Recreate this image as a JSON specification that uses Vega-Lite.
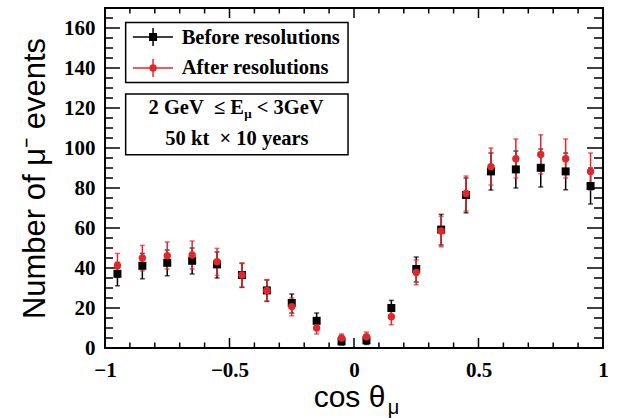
{
  "$schema": "https://vega.github.io/schema/vega-lite/v6.json",
  "width": 498,
  "height": 340,
  "autosize": {"type": "none"},
  "padding": {"left": 105, "top": 8, "right": 22, "bottom": 70},
  "background": "white",
  "config": {
    "view": {"stroke": "black", "strokeWidth": 2},
    "axis": {"domain": false, "grid": false, "ticks": false, "tickSize": 0, "labelColor": "black", "titleColor": "black"}
  },
  "datasets": {
    "pts": [
      {"c": -0.95, "s": "Before resolutions", "n": 37.1, "lo": 31.1, "hi": 42.8},
      {"c": -0.85, "s": "Before resolutions", "n": 41.1, "lo": 34.6, "hi": 47.3},
      {"c": -0.75, "s": "Before resolutions", "n": 42.6, "lo": 36.1, "hi": 49.0},
      {"c": -0.65, "s": "Before resolutions", "n": 43.6, "lo": 37.0, "hi": 50.0},
      {"c": -0.55, "s": "Before resolutions", "n": 41.8, "lo": 35.0, "hi": 48.0},
      {"c": -0.45, "s": "Before resolutions", "n": 36.5, "lo": 30.3, "hi": 42.3},
      {"c": -0.35, "s": "Before resolutions", "n": 28.8, "lo": 23.3, "hi": 34.0},
      {"c": -0.25, "s": "Before resolutions", "n": 22.5, "lo": 17.5, "hi": 27.0},
      {"c": -0.15, "s": "Before resolutions", "n": 13.6, "lo": 10.0, "hi": 17.5},
      {"c": -0.05, "s": "Before resolutions", "n": 3.3, "lo": 1.5, "hi": 5.3},
      {"c": 0.05, "s": "Before resolutions", "n": 3.8, "lo": 1.8, "hi": 5.8},
      {"c": 0.15, "s": "Before resolutions", "n": 20.0, "lo": 15.6, "hi": 23.8},
      {"c": 0.25, "s": "Before resolutions", "n": 39.5, "lo": 33.0, "hi": 45.5},
      {"c": 0.35, "s": "Before resolutions", "n": 59.2, "lo": 51.5, "hi": 66.8},
      {"c": 0.45, "s": "Before resolutions", "n": 76.5, "lo": 67.6, "hi": 85.0},
      {"c": 0.55, "s": "Before resolutions", "n": 88.3, "lo": 79.0, "hi": 97.5},
      {"c": 0.65, "s": "Before resolutions", "n": 89.3, "lo": 80.0, "hi": 98.5},
      {"c": 0.75, "s": "Before resolutions", "n": 90.1, "lo": 80.5, "hi": 99.5},
      {"c": 0.85, "s": "Before resolutions", "n": 88.3, "lo": 79.1, "hi": 97.5},
      {"c": 0.95, "s": "Before resolutions", "n": 81.0, "lo": 72.0, "hi": 90.0},
      {"c": -0.95, "s": "After resolutions", "n": 41.3, "lo": 35.3, "hi": 47.3},
      {"c": -0.85, "s": "After resolutions", "n": 45.0, "lo": 38.6, "hi": 51.3},
      {"c": -0.75, "s": "After resolutions", "n": 46.1, "lo": 39.5, "hi": 53.0},
      {"c": -0.65, "s": "After resolutions", "n": 46.5, "lo": 39.5, "hi": 53.5},
      {"c": -0.55, "s": "After resolutions", "n": 43.1, "lo": 36.3, "hi": 49.8},
      {"c": -0.45, "s": "After resolutions", "n": 36.5, "lo": 30.5, "hi": 42.5},
      {"c": -0.35, "s": "After resolutions", "n": 28.8, "lo": 23.5, "hi": 34.2},
      {"c": -0.25, "s": "After resolutions", "n": 20.7, "lo": 16.1, "hi": 25.0},
      {"c": -0.15, "s": "After resolutions", "n": 10.0, "lo": 7.0, "hi": 13.0},
      {"c": -0.05, "s": "After resolutions", "n": 5.0, "lo": 2.8, "hi": 7.0},
      {"c": 0.05, "s": "After resolutions", "n": 5.6, "lo": 3.3, "hi": 8.0},
      {"c": 0.15, "s": "After resolutions", "n": 15.6, "lo": 11.6, "hi": 19.5},
      {"c": 0.25, "s": "After resolutions", "n": 37.8, "lo": 31.6, "hi": 44.0},
      {"c": 0.35, "s": "After resolutions", "n": 58.5, "lo": 50.6, "hi": 65.8},
      {"c": 0.45, "s": "After resolutions", "n": 77.3, "lo": 68.5, "hi": 86.0},
      {"c": 0.55, "s": "After resolutions", "n": 90.6, "lo": 81.5, "hi": 100.0},
      {"c": 0.65, "s": "After resolutions", "n": 94.6, "lo": 85.0, "hi": 104.5},
      {"c": 0.75, "s": "After resolutions", "n": 96.8, "lo": 87.1, "hi": 106.6},
      {"c": 0.85, "s": "After resolutions", "n": 94.6, "lo": 85.0, "hi": 104.5},
      {"c": 0.95, "s": "After resolutions", "n": 88.3, "lo": 79.0, "hi": 97.5}
    ]
  },
  "layer": [
    {
      "data": {"name": "pts"},
      "transform": [{"filter": "datum.s === 'Before resolutions'"}],
      "mark": {"type": "rule", "color": "black", "strokeWidth": 1.5},
      "encoding": {
        "x": {
          "field": "c", "type": "quantitative",
          "scale": {"domain": [-1, 1], "nice": false, "zero": false},
          "axis": {
            "orient": "bottom",
            "values": [-1, -0.5, 0, 0.5, 1],
            "format": "~g",
            "labelFont": "Liberation Serif", "labelFontWeight": "bold", "labelFontSize": 21,
            "labelPadding": 11, "labelOverlap": false, "labelFlush": false,
            "title": "cos θ",
            "titleFont": "Liberation Sans", "titleFontSize": 30, "titleFontWeight": "normal",
            "titleX": 244, "titleY": 58, "titleBaseline": "alphabetic"
          }
        },
        "y": {
          "field": "lo", "type": "quantitative",
          "scale": {"domain": [0, 170], "nice": false, "zero": false},
          "axis": {
            "orient": "left",
            "values": [0, 20, 40, 60, 80, 100, 120, 140, 160],
            "labelFont": "Liberation Serif", "labelFontWeight": "bold", "labelFontSize": 21,
            "labelPadding": 10, "labelOverlap": false, "labelFlush": false,
            "title": "Number of μ⁻ events",
            "titleFont": "Liberation Sans", "titleFontSize": 31, "titleFontWeight": "normal",
            "titleX": -61, "titleY": 170, "titleBaseline": "alphabetic"
          }
        },
        "y2": {"field": "hi"}
      }
    },
    {
      "data": {"values": [{"v": -1}, {"v": -0.5}, {"v": 0}, {"v": 0.5}, {"v": 1}]},
      "mark": {"type": "rule", "color": "black", "strokeWidth": 1.5},
      "encoding": {"x": {"field": "v", "type": "quantitative"}, "y": {"value": {"expr": "height"}}, "y2": {"value": {"expr": "height - 10"}}}
    },
    {
      "data": {"values": [{"v": -1}, {"v": -0.5}, {"v": 0}, {"v": 0.5}, {"v": 1}]},
      "mark": {"type": "rule", "color": "black", "strokeWidth": 1.5},
      "encoding": {"x": {"field": "v", "type": "quantitative"}, "y": {"value": 0}, "y2": {"value": 10}}
    },
    {
      "data": {"values": [{"v": -0.9}, {"v": -0.8}, {"v": -0.7}, {"v": -0.6}, {"v": -0.4}, {"v": -0.3}, {"v": -0.2}, {"v": -0.1}, {"v": 0.1}, {"v": 0.2}, {"v": 0.3}, {"v": 0.4}, {"v": 0.6}, {"v": 0.7}, {"v": 0.8}, {"v": 0.9}]},
      "mark": {"type": "rule", "color": "black", "strokeWidth": 1.5},
      "encoding": {"x": {"field": "v", "type": "quantitative"}, "y": {"value": {"expr": "height"}}, "y2": {"value": {"expr": "height - 5.5"}}}
    },
    {
      "data": {"values": [{"v": -0.9}, {"v": -0.8}, {"v": -0.7}, {"v": -0.6}, {"v": -0.4}, {"v": -0.3}, {"v": -0.2}, {"v": -0.1}, {"v": 0.1}, {"v": 0.2}, {"v": 0.3}, {"v": 0.4}, {"v": 0.6}, {"v": 0.7}, {"v": 0.8}, {"v": 0.9}]},
      "mark": {"type": "rule", "color": "black", "strokeWidth": 1.5},
      "encoding": {"x": {"field": "v", "type": "quantitative"}, "y": {"value": 0}, "y2": {"value": 5.5}}
    },
    {
      "data": {"values": [{"v": 0}, {"v": 20}, {"v": 40}, {"v": 60}, {"v": 80}, {"v": 100}, {"v": 120}, {"v": 140}, {"v": 160}]},
      "mark": {"type": "rule", "color": "black", "strokeWidth": 1.5},
      "encoding": {"y": {"field": "v", "type": "quantitative"}, "x": {"value": 0}, "x2": {"value": 15}}
    },
    {
      "data": {"values": [{"v": 0}, {"v": 20}, {"v": 40}, {"v": 60}, {"v": 80}, {"v": 100}, {"v": 120}, {"v": 140}, {"v": 160}]},
      "mark": {"type": "rule", "color": "black", "strokeWidth": 1.5},
      "encoding": {"y": {"field": "v", "type": "quantitative"}, "x": {"value": {"expr": "width"}}, "x2": {"value": {"expr": "width - 16"}}}
    },
    {
      "data": {"values": [{"v": 5}, {"v": 10}, {"v": 15}, {"v": 25}, {"v": 30}, {"v": 35}, {"v": 45}, {"v": 50}, {"v": 55}, {"v": 65}, {"v": 70}, {"v": 75}, {"v": 85}, {"v": 90}, {"v": 95}, {"v": 105}, {"v": 110}, {"v": 115}, {"v": 125}, {"v": 130}, {"v": 135}, {"v": 145}, {"v": 150}, {"v": 155}, {"v": 165}]},
      "mark": {"type": "rule", "color": "black", "strokeWidth": 1.5},
      "encoding": {"y": {"field": "v", "type": "quantitative"}, "x": {"value": 0}, "x2": {"value": 8}}
    },
    {
      "data": {"values": [{"v": 5}, {"v": 10}, {"v": 15}, {"v": 25}, {"v": 30}, {"v": 35}, {"v": 45}, {"v": 50}, {"v": 55}, {"v": 65}, {"v": 70}, {"v": 75}, {"v": 85}, {"v": 90}, {"v": 95}, {"v": 105}, {"v": 110}, {"v": 115}, {"v": 125}, {"v": 130}, {"v": 135}, {"v": 145}, {"v": 150}, {"v": 155}, {"v": 165}]},
      "mark": {"type": "rule", "color": "black", "strokeWidth": 1.5},
      "encoding": {"y": {"field": "v", "type": "quantitative"}, "x": {"value": {"expr": "width"}}, "x2": {"value": {"expr": "width - 9"}}}
    },
    {
      "data": {"name": "pts"},
      "transform": [{"filter": "datum.s === 'Before resolutions'"}],
      "mark": {"type": "tick", "orient": "horizontal", "size": 5, "thickness": 1.5, "color": "black"},
      "encoding": {"x": {"field": "c", "type": "quantitative"}, "y": {"field": "lo", "type": "quantitative"}}
    },
    {
      "data": {"name": "pts"},
      "transform": [{"filter": "datum.s === 'Before resolutions'"}],
      "mark": {"type": "tick", "orient": "horizontal", "size": 5, "thickness": 1.5, "color": "black"},
      "encoding": {"x": {"field": "c", "type": "quantitative"}, "y": {"field": "hi", "type": "quantitative"}}
    },
    {
      "data": {"name": "pts"},
      "transform": [{"filter": "datum.s === 'After resolutions'"}],
      "mark": {"type": "rule", "color": "#e3262c", "strokeWidth": 1.5},
      "encoding": {"x": {"field": "c", "type": "quantitative"}, "y": {"field": "lo", "type": "quantitative"}, "y2": {"field": "hi"}}
    },
    {
      "data": {"name": "pts"},
      "transform": [{"filter": "datum.s === 'After resolutions'"}],
      "mark": {"type": "tick", "orient": "horizontal", "size": 5, "thickness": 1.5, "color": "#e3262c"},
      "encoding": {"x": {"field": "c", "type": "quantitative"}, "y": {"field": "lo", "type": "quantitative"}}
    },
    {
      "data": {"name": "pts"},
      "transform": [{"filter": "datum.s === 'After resolutions'"}],
      "mark": {"type": "tick", "orient": "horizontal", "size": 5, "thickness": 1.5, "color": "#e3262c"},
      "encoding": {"x": {"field": "c", "type": "quantitative"}, "y": {"field": "hi", "type": "quantitative"}}
    },
    {
      "data": {"name": "pts"},
      "transform": [{"filter": "datum.s === 'Before resolutions'"}],
      "mark": {"type": "square", "size": 64, "opacity": 1, "color": "black"},
      "encoding": {"x": {"field": "c", "type": "quantitative"}, "y": {"field": "n", "type": "quantitative"}}
    },
    {
      "data": {"name": "pts"},
      "transform": [{"filter": "datum.s === 'After resolutions'"}],
      "mark": {"type": "circle", "size": 55, "opacity": 1, "color": "#e3262c"},
      "encoding": {"x": {"field": "c", "type": "quantitative"}, "y": {"field": "n", "type": "quantitative"}}
    },
    {
      "data": {"values": [{}]},
      "mark": {"type": "rect", "fill": "white", "stroke": "black", "strokeWidth": 1.5},
      "encoding": {"x": {"datum": -0.917}, "x2": {"datum": -0.024}, "y": {"datum": 132.8}, "y2": {"datum": 162.8}}
    },
    {
      "data": {"values": [{}]},
      "mark": {"type": "rule", "color": "black", "strokeWidth": 1.5},
      "encoding": {"x": {"datum": -0.888}, "x2": {"datum": -0.727}, "y": {"datum": 155.5}}
    },
    {
      "data": {"values": [{}]},
      "mark": {"type": "rule", "color": "black", "strokeWidth": 1.5},
      "encoding": {"x": {"datum": -0.807}, "y": {"datum": 151}, "y2": {"datum": 160}}
    },
    {
      "data": {"values": [{}]},
      "mark": {"type": "square", "size": 64, "opacity": 1, "color": "black"},
      "encoding": {"x": {"datum": -0.807}, "y": {"datum": 155.5}}
    },
    {
      "data": {"values": [{}]},
      "mark": {"type": "text", "text": "Before resolutions", "align": "left", "baseline": "alphabetic", "font": "Liberation Serif", "fontWeight": "bold", "fontSize": 20.5, "color": "black"},
      "encoding": {"x": {"datum": -0.692}, "y": {"datum": 152}}
    },
    {
      "data": {"values": [{}]},
      "mark": {"type": "rule", "color": "#e3262c", "strokeWidth": 1.5},
      "encoding": {"x": {"datum": -0.888}, "x2": {"datum": -0.727}, "y": {"datum": 140}}
    },
    {
      "data": {"values": [{}]},
      "mark": {"type": "rule", "color": "#e3262c", "strokeWidth": 1.5},
      "encoding": {"x": {"datum": -0.807}, "y": {"datum": 135.5}, "y2": {"datum": 144.5}}
    },
    {
      "data": {"values": [{}]},
      "mark": {"type": "circle", "size": 55, "opacity": 1, "color": "#e3262c"},
      "encoding": {"x": {"datum": -0.807}, "y": {"datum": 140}}
    },
    {
      "data": {"values": [{}]},
      "mark": {"type": "text", "text": "After resolutions", "align": "left", "baseline": "alphabetic", "font": "Liberation Serif", "fontWeight": "bold", "fontSize": 20.5, "color": "black"},
      "encoding": {"x": {"datum": -0.692}, "y": {"datum": 137}}
    },
    {
      "data": {"values": [{}]},
      "mark": {"type": "rect", "fill": "white", "stroke": "black", "strokeWidth": 1.5},
      "encoding": {"x": {"datum": -0.917}, "x2": {"datum": -0.024}, "y": {"datum": 96.6}, "y2": {"datum": 127}}
    },
    {
      "data": {"values": [{}]},
      "mark": {"type": "text", "text": "2 GeV\u00a0\u00a0≤ E", "align": "left", "baseline": "alphabetic", "font": "Liberation Serif", "fontWeight": "bold", "fontSize": 20.5, "color": "black"},
      "encoding": {"x": {"datum": -0.8253}, "y": {"datum": 117.2}}
    },
    {
      "data": {"values": [{}]},
      "mark": {"type": "text", "text": "μ", "align": "left", "baseline": "alphabetic", "font": "Liberation Serif", "fontWeight": "bold", "fontSize": 13, "color": "black"},
      "encoding": {"x": {"datum": -0.441}, "y": {"datum": 115.0}}
    },
    {
      "data": {"values": [{}]},
      "mark": {"type": "text", "text": "< 3GeV", "align": "left", "baseline": "alphabetic", "font": "Liberation Serif", "fontWeight": "bold", "fontSize": 20.5, "color": "black"},
      "encoding": {"x": {"datum": -0.391}, "y": {"datum": 117.2}}
    },
    {
      "data": {"values": [{}]},
      "mark": {"type": "text", "text": "50 kt\u00a0\u00a0× 10 years", "align": "center", "baseline": "alphabetic", "font": "Liberation Serif", "fontWeight": "bold", "fontSize": 20.5, "color": "black"},
      "encoding": {"x": {"datum": -0.47}, "y": {"datum": 101.3}}
    },
    {
      "data": {"values": [{}]},
      "mark": {"type": "text", "text": "μ", "align": "left", "baseline": "alphabetic", "font": "Liberation Sans", "fontSize": 20, "color": "black"},
      "encoding": {"x": {"datum": 0.136}, "y": {"datum": -32.8}}
    }
  ]
}
